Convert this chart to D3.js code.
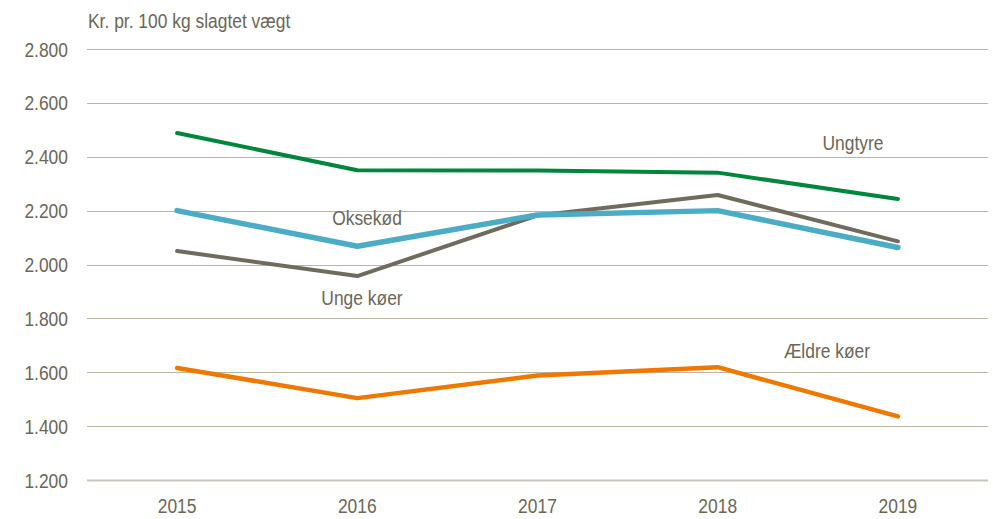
<!DOCTYPE html>
<html>
<head>
<meta charset="utf-8">
<script src="https://cdn.jsdelivr.net/npm/d3@7"></script>
<style>
	body { margin: 0; background: #fff; }
	text { font-family: "Liberation Sans", Arial, sans-serif; fill: #6b6757; font-size: 21px; }
</style>
</head>
<body>
<div id="viz-container"></div>
<script>
var YEARS = ['2015', '2016', '2017', '2018', '2019'];
var UNGTYRE = [2488, 2350, 2349, 2341, 2243];
var OKSEKOD = [2200, 2068, 2184, 2200, 2063];
var UNGE_KOER = [2050, 1957, 2182, 2258, 2086];
var AELDRE_KOER = [1616, 1504, 1588, 1619, 1436];
var Y_TICKS = [1200, 1400, 1600, 1800, 2000, 2200, 2400, 2600, 2800];

var series = [
	{name: 'Ungtyre', values: UNGTYRE, color: '#00873c', width: 4},
	{name: 'Oksekød', values: OKSEKOD, color: '#4bacc6', width: 5.5},
	{name: 'Unge køer', values: UNGE_KOER, color: '#6f6c5e', width: 4},
	{name: 'Ældre køer', values: AELDRE_KOER, color: '#f07800', width: 4.5}
];

// where the series names sit (px)
var labelPos = {
	'Ungtyre': {x: 853, y: 150},
	'Oksekød': {x: 367, y: 225},
	'Unge køer': {x: 362, y: 305},
	'Ældre køer': {x: 827, y: 358}
};

var NARROW = 0.83; // the original font is a condensed one

function narrowText(sel, x, y) {
	return sel.attr('transform', function(d, i) {
		return 'translate(' + x(d, i) + ',' + y(d, i) + ') scale(' + NARROW + ',1)';
	});
}

function init() {
	var svg = d3.select('#viz-container').append('svg')
		.attr('width', 993)
		.attr('height', 519);

	var margin = {left: 87, right: 5, top: 49, bottom: 39};
	var x = d3.scaleBand()
		.domain(YEARS)
		.range([margin.left, 993 - margin.right]);

	var y = d3.scaleLinear()
		.domain([1200, 2800])
		.range([519 - margin.bottom, margin.top]);

	svg.append('g').selectAll('line')
		.data(Y_TICKS)
		.enter().append('line')
		.attr('x1', margin.left)
		.attr('x2', 993 - margin.right)
		.attr('y1', function(d) { return Math.round(y(d)) + 0.5; })
		.attr('y2', function(d) { return Math.round(y(d)) + 0.5; })
		.attr('stroke', function(d) { return d === 1200 ? '#c9c6b9' : '#b8b5a2'; })
		.attr('stroke-width', function(d) { return d === 1200 ? 2 : 1; });

	narrowText(svg.append('g').selectAll('text')
		.data(Y_TICKS)
		.enter().append('text'),
		function() { return 68; },
		function(d) { return y(d) + 7.5; })
		.attr('text-anchor', 'end')
		.text(function(d) { return d3.format(',')(d).replace(',', '.'); });

	narrowText(svg.append('g').selectAll('text')
		.data(YEARS)
		.enter().append('text'),
		function(d) { return x(d) + x.bandwidth() / 2; },
		function() { return 513; })
		.attr('text-anchor', 'middle')
		.text(function(d) { return d; });

	narrowText(svg.append('text').datum('title'),
		function() { return 88; },
		function() { return 28; })
		.text('Kr. pr. 100 kg slagtet vægt');

	var line = d3.line()
		.x(function(d, i) { return x(YEARS[i]) + x.bandwidth() / 2; })
		.y(function(d) { return y(d); });

	var order = [series[0], series[2], series[1], series[3]];
	svg.append('g').selectAll('path')
		.data(order)
		.enter().append('path')
		.attr('d', function(d) { return line(d.values); })
		.attr('fill', 'none')
		.attr('stroke', function(d) { return d.color; })
		.attr('stroke-width', function(d) { return d.width; })
		.attr('stroke-linejoin', 'round')
		.attr('stroke-linecap', 'round');

	narrowText(svg.append('g').selectAll('text')
		.data(series)
		.enter().append('text'),
		function(d) { return labelPos[d.name].x; },
		function(d) { return labelPos[d.name].y; })
		.attr('text-anchor', 'middle')
		.text(function(d) { return d.name; });
}

init();
</script>
</body>
</html>
